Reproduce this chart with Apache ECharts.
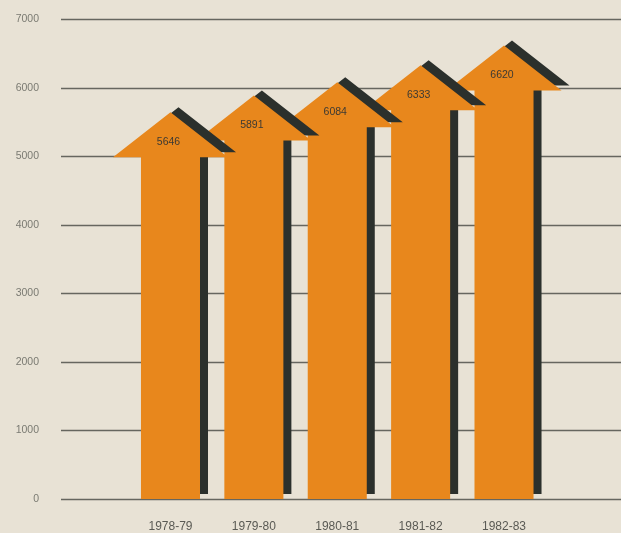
<!DOCTYPE html>
<html><head><meta charset="utf-8">
<script src="https://cdn.jsdelivr.net/npm/echarts@6/dist/echarts.min.js"></script>
<style>html,body{margin:0;padding:0;background:#e8e2d5;}#c{width:621px;height:533px;}</style>
</head><body><div id="c"></div>
<script>
const categories = ['1978-79','1979-80','1980-81','1981-82','1982-83'];
const values = [5646, 5891, 6084, 6333, 6620];
const yTicks = [0,1000,2000,3000,4000,5000,6000,7000];

const chart = echarts.init(document.getElementById('c'), null, {renderer:'canvas'});
const ORANGE = '#e8871c', SHADOW = '#2b302c';

function arrowPts(cx, tipY, baseY, shaftHW, headHW, headH, dx, dy){
  const hb = tipY + headH;
  return [
    [cx+dx, tipY+dy],
    [cx+headHW+dx, hb+dy],
    [cx+shaftHW+dx, hb+dy],
    [cx+shaftHW+dx, baseY+dy],
    [cx-shaftHW+dx, baseY+dy],
    [cx-shaftHW+dx, hb+dy],
    [cx-headHW+dx, hb+dy]
  ];
}

chart.setOption({
  backgroundColor:'#e8e2d5',
  animation:false,
  grid:[
    {left:61, right:0, top:19.5, bottom:34},
    {left:128.8, right:75.3, top:19.5, bottom:34}
  ],
  xAxis:[
    {gridIndex:0, type:'value', min:0, max:1, show:false},
    {gridIndex:1, type:'category', data:categories,
     axisLine:{show:false}, axisTick:{show:false},
     axisLabel:{color:'#5a5a54', fontSize:12, fontFamily:'Liberation Sans, Arial', margin:22}}
  ],
  yAxis:[
    {gridIndex:0, type:'value', min:0, max:7000, interval:1000,
     axisLine:{show:false}, axisTick:{show:false},
     axisLabel:{color:'#7a7a72', fontSize:10.5, fontFamily:'Liberation Sans, Arial', margin:22,
       padding:[0,0,11,0],
       formatter:v=> yTicks.indexOf(v)>=0 ? String(v) : ''},
     splitLine:{lineStyle:{color:'#66665f', width:1.3}}},
    {gridIndex:1, type:'value', min:0, max:7000, show:false}
  ],
  series:[{
    type:'custom',
    xAxisIndex:1, yAxisIndex:1,
    data: values.map((v,i)=>[i,v]),
    renderItem:function(params, api){
      const idx = params.dataIndex;
      const tip = api.coord([api.value(0), api.value(1)]);
      const base = api.coord([api.value(0), 0]);
      const bw = api.size([1,0])[0];
      const cx = tip[0];
      const shaftHW = bw*0.354, headHW = bw*0.69, headH = 45;
      const z = 10*(categories.length-idx);
      return {type:'group', children:[
        {type:'polygon', z2:z, shape:{points:arrowPts(cx, tip[1], base[1], shaftHW, headHW, headH, 8, -5)},
         style:{fill:SHADOW}},
        {type:'polygon', z2:z+1, shape:{points:arrowPts(cx, tip[1], base[1], shaftHW, headHW, headH, 0, 0)},
         style:{fill:ORANGE}},
        {type:'text', z2:z+2, x:cx-2, y:tip[1]+30,
         style:{text:String(api.value(1)), fill:'#3d3a33', fontSize:10.5, fontFamily:'Liberation Sans, Arial',
           align:'center', verticalAlign:'middle'}}
      ]};
    }
  }]
});
</script></body></html>
